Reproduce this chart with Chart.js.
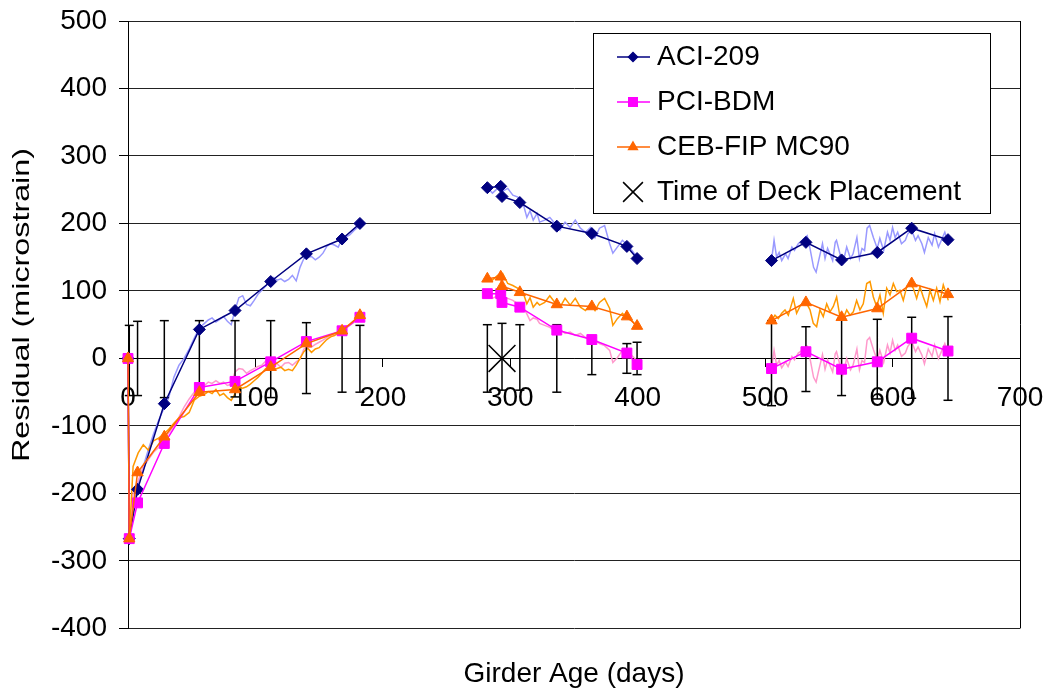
<!DOCTYPE html>
<html>
<head>
<meta charset="utf-8">
<title>Residual vs Girder Age</title>
<script src="https://cdn.jsdelivr.net/npm/chart.js@4.4.0/dist/chart.umd.min.js"></script>
<style>
    html, body { margin: 0; padding: 0; background: #fff; }
    #wrap { width: 1048px; height: 691px; }
</style>
</head>
<body>
<div id="wrap"><canvas id="residualChart" width="1048" height="691"></canvas></div>
<script>
// model prediction residuals, one array per measurement period
const modelDays = [
    [0, 1, 7.5, 28.5, 56, 84, 112, 140, 168, 182],
    [282, 292.5, 293.5, 307.5, 336.5, 364, 391.5, 399.5],
    [505, 532, 560, 588, 615, 643.5]
];
const aci209 = [
    [0, -267, -194, -67, 43, 71, 114, 155, 177, 200],
    [253, 255, 240, 231, 196, 185, 166, 148],
    [145, 172, 146, 157, 193, 176]
];
const pciBdm = [
    [0, -267, -214, -126, -43, -34, -5, 25, 41, 61],
    [96, 96, 83, 76, 42, 28, 8, -9],
    [-15, 10, -16, -5, 30, 11]
];
const cebFip = [
    [0, -267, -169, -116, -50, -46, -13, 22, 41, 64],
    [118, 121, 107, 98, 80, 77, 62, 48],
    [56, 83, 61, 74, 111, 95]
];

// daily residual traces (thin pale lines)
const measDays = [
    [0, 1, 4, 8, 12, 16, 20, 24, 28, 32, 36, 40, 44, 48, 52, 56, 60, 63, 66, 69,
     72, 75, 78, 81, 84, 87, 90, 93, 96, 99, 102, 105, 108, 111, 114, 117, 120, 123, 126, 129,
     132, 135, 138, 141, 144, 147, 150, 153, 156, 159, 162, 165, 168, 171, 174, 177, 180, 182],
    [282, 286, 290, 294, 298, 302, 306, 310, 313, 315.5, 318, 321, 323, 327, 331, 335, 339, 343,
     347, 351, 355, 359, 363, 366.5, 370, 374, 378, 380.5, 384, 388, 392, 395.5, 399.5],
    [505, 507, 509, 511, 513, 516, 518, 521, 523, 526, 529, 533, 535, 538, 540, 542, 545, 547, 549, 553,
     555, 556, 559, 561, 564, 567, 569, 572, 574, 576, 578, 580, 582, 585, 588, 590, 593, 596, 598, 600,
     602, 604, 607, 610, 612, 615, 618, 620, 623, 625, 628, 631, 633, 636, 639, 641, 643.5]
];
const cebMeasDays3 = [505, 507.7, 510.3, 513, 515.6, 518.2, 522.1, 524.7, 527.3, 531.3,
    535.2, 537.8, 540.4, 543, 545.6, 548.3, 550.9, 553.5, 556.1, 558.7,
    561.3, 564, 566.6, 569.2, 571.8, 574.4, 577, 579.7, 582.3, 584.9,
    587.5, 590.1, 592.7, 595.4, 598, 600.6, 603.2, 605.8, 608.4, 611.1,
    613.7, 616.3, 618.9, 621.5, 624.1, 626.8, 629.4, 632, 634.6, 637.2,
    639.8, 642.5, 643.7];

const aciMeasured = [
    [0, -267, -215, -185, -160, -135, -112, -92, -75, -58, -28, -10, 0, 14, 30, 45, 52, 57, 60, 54,
     58, 62, 55, 50, 72, 90, 93, 80, 78, 86, 95, 101, 107, 113, 120, 116, 118, 114, 117, 123,
     115, 135, 148, 150, 151, 146, 150, 156, 166, 170, 168, 165, 178, 180, 183, 189, 194, 197],
    [253, 245, 252, 248, 252, 242, 239, 230, 209, 219, 205, 215, 202, 205, 209, 200, 190, 202,
     194, 205, 193, 187, 194, 179, 193, 197, 170, 156, 165, 175, 168, 160, 150],
    [145, 175, 150, 157, 145, 155, 148, 165, 160, 170, 175, 182, 165, 135, 128, 145, 170, 148, 163, 145,
     172, 175, 153, 141, 165, 148, 155, 179, 148, 163, 160, 193, 197, 179, 163, 178, 160, 187, 175, 194,
     179, 187, 170, 175, 185, 190, 175, 182, 170, 157, 179, 168, 185, 165, 178, 187, 172]
];
const pciMeasured = [
    [0, -267, -200, -181, -161, -150, -139, -132, -120, -110, -100, -87, -72, -60, -50, -42, -40, -35, -37, -33,
     -37, -35, -40, -38, -20, -15, -16, -22, -18, -15, -12, -10, -4, -2, -3, -8, -13, -7, -6, -10,
     -5, -1, 14, 16, 17, 21, 24, 27, 31, 34, 36, 38, 42, 45, 49, 53, 58, 60],
    [96, 89, 93, 91, 89, 86, 81, 76, 66, 56, 60, 58, 52, 49, 46, 41, 43, 37,
     39, 34, 37, 31, 29, 27, 22, 19, 12, -6, 1, 12, 9, 4, -3],
    [-15, 12, -10, -3, -14, -5, -12, 3, -2, 8, 12, 18, 2, -28, -35, -18, 6, -16, -2, -20,
     7, 10, -12, -24, 0, -17, -10, 14, -17, -3, -6, 27, 31, 13, -3, 12, -6, 20, 8, 27,
     12, 20, 3, 8, 18, 25, 10, 17, 5, -8, 14, 3, 20, 0, 13, 22, 8]
];
const cebMeasured = [
    [0, -267, -160, -140, -128, -136, -122, -118, -112, -105, -96, -88, -86, -80, -62, -56, -53, -49, -52, -46,
     -55, -52, -58, -62, -52, -43, -44, -42, -38, -33, -28, -22, -15, -13, -17, -15, -13, -18, -16, -18,
     -10, 0, 10, 15, 9, 14, 16, 22, 28, 32, 34, 38, 43, 47, 50, 55, 59, 62],
    [120, 116, 123, 126, 111, 108, 104, 98, 81, 90, 76, 83, 79, 83, 93, 83, 76, 89,
     79, 89, 76, 71, 81, 71, 83, 89, 74, 49, 59, 67, 59, 56, 46],
    [56, 64, 59, 67, 72, 64, 89, 67, 77, 86, 72, 52, 47, 72, 62, 81, 69, 77, 91, 62,
     59, 72, 64, 69, 86, 72, 81, 111, 114, 91, 77, 94, 67, 104, 94, 111, 99, 101, 86, 106,
     111, 104, 89, 106, 91, 77, 101, 86, 104, 84, 109, 94, 86]
];

// scatter of measurement uncertainty
const errDays = [1, 7.5, 28.5, 56, 84, 112, 140, 168, 182,
    282, 293.5, 307.5, 336.5, 364, 391.5, 399.5,
    505, 532, 560, 588, 615, 643.5];
const errHigh = [49, 55, 56, 56, 56, 56, 53, 47, 49, 50, 52, 50, 50, 31, 22, 24, 56, 47, 59, 58, 61, 62];
const errLow = [-55, -55, -58, -48, -57, -58, -52, -50, -50, -50, -47, -47, -50, -24, -22, -24, -70, -49, -55, -60, -59, -62];

const deckDay = 293.5;

const xTicks = { min: 0, max: 700, step: 100 };
const yTicks = { min: -400, max: 500, step: 100 };
const legendLabels = ['ACI-209', 'PCI-BDM', 'CEB-FIP MC90', 'Time of Deck Placement'];

const FONT = "'Liberation Sans', Arial, sans-serif";
Chart.defaults.font.family = FONT;
Chart.defaults.font.size = 28;
Chart.defaults.color = '#000';

function seriesPoints(daySets, valueSets) {
    const pts = [];
    daySets.forEach((days, s) => {
        if (s > 0) pts.push({ x: days[0], y: null });
        days.forEach((d, i) => pts.push({ x: d, y: valueSets[s][i] }));
    });
    return pts;
}

function errorPoints() {
    const pts = [];
    errDays.forEach((d, i) => {
        pts.push({ x: d, y: errLow[i] }, { x: d, y: errHigh[i] }, { x: d, y: null });
    });
    return pts;
}

function modelSet(label, values, color, style, radius, order) {
    return {
        label: label,
        data: seriesPoints(modelDays, values),
        borderColor: color,
        backgroundColor: color,
        borderWidth: 1.5,
        pointStyle: style,
        pointRadius: radius,
        pointBorderWidth: 1,
        clip: false,
        order: order
    };
}

function traceSet(label, days, values, color, order) {
    return {
        label: label,
        data: seriesPoints(days, values),
        borderColor: color,
        borderWidth: 1.5,
        pointRadius: 0,
        order: order
    };
}

const datasets = [
    modelSet('ACI-209', aci209, '#000080', 'rectRot', 6, 3),
    modelSet('PCI-BDM', pciBdm, '#FF00FF', 'rect', 7, 2),
    modelSet('CEB-FIP MC90', cebFip, '#FF6600', 'triangle', 6.5, 1),
    {
        label: 'Time of Deck Placement',
        data: [{ x: deckDay, y: 0 }],
        showLine: false,
        borderColor: '#000',
        backgroundColor: '#000',
        pointStyle: 'crossRot',
        pointRadius: 19,
        pointBorderWidth: 1.5,
        order: 0
    },
    {
        label: 'error',
        data: errorPoints(),
        borderColor: '#000',
        borderWidth: 1.5,
        pointStyle: 'line',
        pointRadius: 4.5,
        pointBorderWidth: 1.5,
        clip: false,
        order: 4
    },
    traceSet('ACI measured', measDays, aciMeasured, '#9999FF', 7),
    traceSet('PCI measured', measDays, pciMeasured, '#FF99CC', 6),
    traceSet('CEB measured', [measDays[0], measDays[1], cebMeasDays3], cebMeasured, '#FF9900', 5)
];

const legendBox = {
    id: 'legendBox',
    afterDraw(chart) {
        const ctx = chart.ctx;
        const area = chart.chartArea;
        const left = area.right - 427, top = area.top + 12;
        ctx.save();
        ctx.fillStyle = '#fff';
        ctx.fillRect(left, top, 397, 180);
        ctx.strokeStyle = '#000';
        ctx.lineWidth = 1;
        ctx.strokeRect(left + 0.5, top + 0.5, 397, 180);
        ctx.font = '28px ' + FONT;
        ctx.textBaseline = 'middle';
        ctx.textAlign = 'left';
        const sizes = { rectRot: 4.5, rect: 6, triangle: 5, crossRot: 14 };
        legendLabels.forEach((label, i) => {
            const ds = chart.data.datasets.find(d => d.label === label);
            const y = top + 24 + 45 * i;
            const mx = left + 40;
            ctx.strokeStyle = ds.borderColor;
            ctx.fillStyle = ds.borderColor;
            if (ds.showLine !== false) {
                ctx.lineWidth = 1.5;
                ctx.beginPath();
                ctx.moveTo(left + 24, y);
                ctx.lineTo(left + 57, y);
                ctx.stroke();
            }
            Chart.helpers.drawPoint(ctx, {
                pointStyle: ds.pointStyle,
                rotation: 0,
                radius: sizes[ds.pointStyle],
                borderWidth: ds.pointStyle === 'crossRot' ? 1.5 : 1
            }, mx, y);
            ctx.fillStyle = '#000';
            ctx.fillText(label, left + 64, y);
        });

        // vertical axis title
        const text = 'Residual (microstrain)';
        ctx.translate(22, 305);
        ctx.rotate(-Math.PI / 2);
        ctx.font = '24px ' + FONT;
        const w = ctx.measureText(text).width;
        ctx.scale(314 / w, 1);
        ctx.textAlign = 'center';
        ctx.fillStyle = '#000';
        ctx.fillText(text, 0, 0);
        ctx.restore();
    }
};

new Chart(document.getElementById('residualChart'), {
    type: 'line',
    data: { datasets: datasets },
    options: {
        responsive: false,
        animation: false,
        events: [],
        layout: { padding: { top: 21, right: 28, bottom: 0, left: 0 } },
        scales: {
            x: {
                type: 'linear',
                position: { y: 0 },
                min: xTicks.min,
                max: xTicks.max,
                ticks: { stepSize: xTicks.step, padding: 15, maxRotation: 0 },
                grid: {
                    color: c => (c.tick && c.tick.value === xTicks.max) ? '#000' : 'rgba(0,0,0,0)',
                    tickColor: '#000',
                    tickLength: 8,
                    lineWidth: 1
                },
                border: { color: '#000', width: 1 },
                afterFit: scale => { scale.paddingLeft = 0; scale.paddingRight = 0; }
            },
            y: {
                type: 'linear',
                min: yTicks.min,
                max: yTicks.max,
                ticks: { stepSize: yTicks.step, padding: 12 },
                grid: { color: '#222', tickColor: '#000', tickLength: 9, lineWidth: 1 },
                border: { color: '#000', width: 1 },
                afterFit: scale => {
                    scale.width = 128;
                    scale.paddingTop = 0;
                    scale.paddingBottom = 0;
                }
            }
        },
        plugins: {
            legend: { display: false },
            tooltip: { enabled: false },
            title: {
                display: true,
                text: 'Girder Age (days)',
                position: 'bottom',
                fullSize: false,
                color: '#000',
                font: { size: 28, weight: 'normal' },
                padding: { top: 29, bottom: 0 }
            }
        }
    },
    plugins: [legendBox]
});
</script>
</body>
</html>
